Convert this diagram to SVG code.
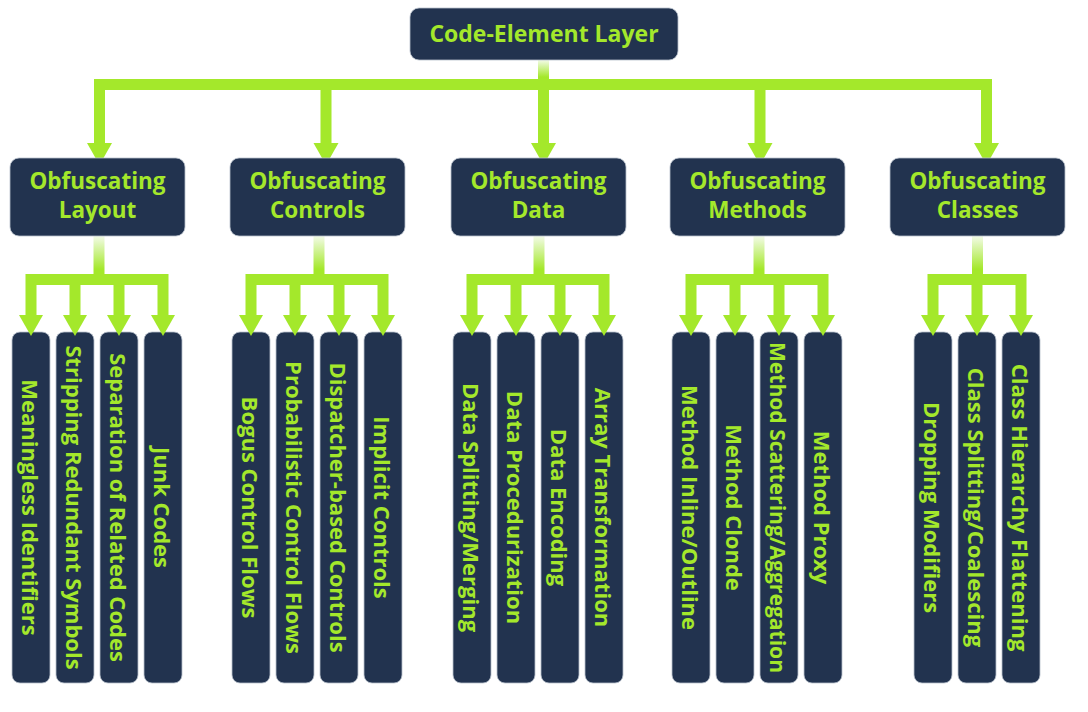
<svg xmlns="http://www.w3.org/2000/svg" width="1088" height="712" viewBox="0 0 1088 712">
<style>
.box{fill:#22334f;stroke:#b8c0cc;stroke-width:0.8}
.t{font-family:"Open Sans","Noto Sans","DejaVu Sans",sans-serif;font-weight:700;fill:#a4e82b;text-anchor:middle}
.h{font-size:22.5px}
.l{font-size:22px;dominant-baseline:central}
.ln{fill:none;stroke:#a4e82b;stroke-width:11;stroke-linejoin:miter}
.hd{fill:#a4e82b}
.st{fill:url(#fade)}
</style>
<defs>
<linearGradient id="fade" x1="0" y1="0" x2="0" y2="1">
<stop offset="0" stop-color="#f3fbe8"/>
<stop offset="0.85" stop-color="#a4e82b"/>
</linearGradient>
</defs>
<rect width="1088" height="712" fill="#ffffff"/>
<g id="connectors">
<rect class="st" x="538" y="60" width="11" height="20"/>
<path class="ln" d="M99.5 143V84.5H986.5V143M326 84.5V143M543.5 84.5V143M760 84.5V143"/>
<g class="hd">
<polygon points="87,143 112,143 99.5,165"/>
<polygon points="313.5,143 338.5,143 326,165"/>
<polygon points="531,143 556,143 543.5,165"/>
<polygon points="747.5,143 772.5,143 760,165"/>
<polygon points="974,143 999,143 986.5,165"/>
</g>
<rect class="st" x="93.5" y="236" width="11" height="39"/>
<rect class="st" x="313.5" y="236" width="11" height="39"/>
<rect class="st" x="533.5" y="236" width="11" height="39"/>
<rect class="st" x="753.5" y="236" width="11" height="39"/>
<rect class="st" x="972" y="236" width="11" height="39"/>
<path class="ln" d="M31 315V279.5H163V315M75 279.5V315M119 279.5V315"/>
<path class="ln" d="M251 315V279.5H383V315M295 279.5V315M339 279.5V315"/>
<path class="ln" d="M472 315V279.5H604V315M516 279.5V315M560 279.5V315"/>
<path class="ln" d="M691 315V279.5H823V315M735 279.5V315M779 279.5V315"/>
<path class="ln" d="M933 315V279.5H1021V315M977 279.5V315"/>
</g>
<g id="root">
<rect class="box" x="410" y="8" width="268" height="52" rx="9"/>
<text class="t" x="544" y="42" font-size="23">Code-Element Layer</text>
</g>
<g id="layout">
<rect class="box" x="10" y="158" width="175" height="78" rx="9"/>
<text class="t h" x="97.5" y="189">Obfuscating</text>
<text class="t h" x="97.5" y="218">Layout</text>
</g>
<g id="controls">
<rect class="box" x="230" y="158" width="175" height="78" rx="9"/>
<text class="t h" x="317.5" y="189">Obfuscating</text>
<text class="t h" x="317.5" y="218">Controls</text>
</g>
<g id="data">
<rect class="box" x="451" y="158" width="175" height="78" rx="9"/>
<text class="t h" x="538.5" y="189">Obfuscating</text>
<text class="t h" x="538.5" y="218">Data</text>
</g>
<g id="methods">
<rect class="box" x="670" y="158" width="175" height="78" rx="9"/>
<text class="t h" x="757.5" y="189">Obfuscating</text>
<text class="t h" x="757.5" y="218">Methods</text>
</g>
<g id="classes">
<rect class="box" x="890" y="158" width="175" height="78" rx="9"/>
<text class="t h" x="977.5" y="189">Obfuscating</text>
<text class="t h" x="977.5" y="218">Classes</text>
</g>
<g id="meaningless-identifiers"><rect class="box" x="12" y="332" width="38" height="351" rx="8"/><text class="t l" transform="translate(31 507.5) rotate(90)">Meaningless Identifiers</text></g>
<g id="stripping-redundant-symbols"><rect class="box" x="56" y="332" width="38" height="351" rx="8"/><text class="t l" transform="translate(75 507.5) rotate(90)">Stripping Redundant Symbols</text></g>
<g id="separation-of-related-codes"><rect class="box" x="100" y="332" width="38" height="351" rx="8"/><text class="t l" transform="translate(119 507.5) rotate(90)">Separation of Related Codes</text></g>
<g id="junk-codes"><rect class="box" x="144" y="332" width="38" height="351" rx="8"/><text class="t l" transform="translate(163 507.5) rotate(90)">Junk Codes</text></g>
<g id="bogus-control-flows"><rect class="box" x="232" y="332" width="38" height="351" rx="8"/><text class="t l" transform="translate(251 507.5) rotate(90)">Bogus Control Flows</text></g>
<g id="probabilistic-control-flows"><rect class="box" x="276" y="332" width="38" height="351" rx="8"/><text class="t l" transform="translate(295 507.5) rotate(90)">Probabilistic Control Flows</text></g>
<g id="dispatcher-based-controls"><rect class="box" x="320" y="332" width="38" height="351" rx="8"/><text class="t l" transform="translate(339 507.5) rotate(90)">Dispatcher-based Controls</text></g>
<g id="implicit-controls"><rect class="box" x="364" y="332" width="38" height="351" rx="8"/><text class="t l" transform="translate(383 507.5) rotate(90)">Implicit Controls</text></g>
<g id="data-splitting-merging"><rect class="box" x="453" y="332" width="38" height="351" rx="8"/><text class="t l" transform="translate(472 507.5) rotate(90)">Data Splitting/Merging</text></g>
<g id="data-procedurization"><rect class="box" x="497" y="332" width="38" height="351" rx="8"/><text class="t l" transform="translate(516 507.5) rotate(90)">Data Procedurization</text></g>
<g id="data-encoding"><rect class="box" x="541" y="332" width="38" height="351" rx="8"/><text class="t l" transform="translate(560 507.5) rotate(90)">Data Encoding</text></g>
<g id="array-transformation"><rect class="box" x="585" y="332" width="38" height="351" rx="8"/><text class="t l" transform="translate(604 507.5) rotate(90)">Array Transformation</text></g>
<g id="method-inline-outline"><rect class="box" x="672" y="332" width="38" height="351" rx="8"/><text class="t l" transform="translate(691 507.5) rotate(90)">Method Inline/Outline</text></g>
<g id="method-clonde"><rect class="box" x="716" y="332" width="38" height="351" rx="8"/><text class="t l" transform="translate(735 507.5) rotate(90)">Method Clonde</text></g>
<g id="method-scattering-aggregation"><rect class="box" x="760" y="332" width="38" height="351" rx="8"/><text class="t l" transform="translate(779 507.5) rotate(90)" font-size="20" textLength="331" lengthAdjust="spacingAndGlyphs">Method Scattering/Aggregation</text></g>
<g id="method-proxy"><rect class="box" x="804" y="332" width="38" height="351" rx="8"/><text class="t l" transform="translate(823 507.5) rotate(90)">Method Proxy</text></g>
<g id="dropping-modifiers"><rect class="box" x="914" y="332" width="38" height="351" rx="8"/><text class="t l" transform="translate(933 507.5) rotate(90)">Dropping Modifiers</text></g>
<g id="class-splitting-coalescing"><rect class="box" x="958" y="332" width="38" height="351" rx="8"/><text class="t l" transform="translate(977 507.5) rotate(90)">Class Splitting/Coalescing</text></g>
<g id="class-hierarchy-flattening"><rect class="box" x="1002" y="332" width="38" height="351" rx="8"/><text class="t l" transform="translate(1021 507.5) rotate(90)">Class Hierarchy Flattening</text></g>
<g class="hd" id="leaf-heads">
<polygon points="19,315 43,315 31,336"/><polygon points="63,315 87,315 75,336"/><polygon points="107,315 131,315 119,336"/><polygon points="151,315 175,315 163,336"/>
<polygon points="239,315 263,315 251,336"/><polygon points="283,315 307,315 295,336"/><polygon points="327,315 351,315 339,336"/><polygon points="371,315 395,315 383,336"/>
<polygon points="460,315 484,315 472,336"/><polygon points="504,315 528,315 516,336"/><polygon points="548,315 572,315 560,336"/><polygon points="592,315 616,315 604,336"/>
<polygon points="679,315 703,315 691,336"/><polygon points="723,315 747,315 735,336"/><polygon points="767,315 791,315 779,336"/><polygon points="811,315 835,315 823,336"/>
<polygon points="921,315 945,315 933,336"/><polygon points="965,315 989,315 977,336"/><polygon points="1009,315 1033,315 1021,336"/>
</g>
</svg>
